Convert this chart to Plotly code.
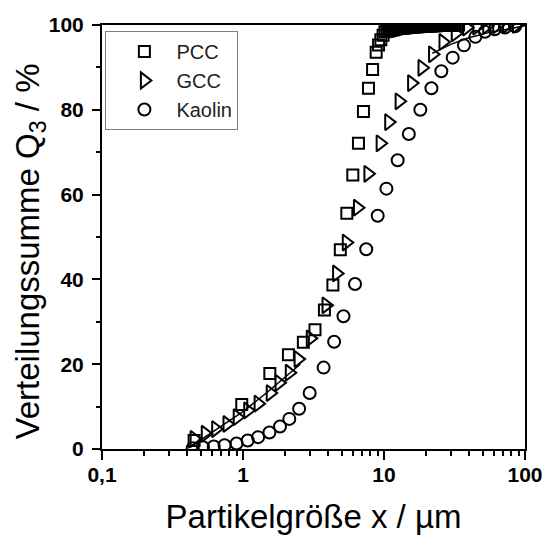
import plotly.graph_objects as go

# Partikelgrößenverteilung (Summenverteilung Q3) von drei Füllstoffen

# PCC (Fällungscalciumcarbonat)
pcc_x = [0.45, 0.98, 1.55, 2.10, 2.68, 3.24, 3.78, 4.34, 4.90, 5.45, 6.01, 6.59,
         7.15, 7.76, 8.30, 8.80, 9.15, 9.50, 9.85, 10.15,
         10.5, 10.8, 11.1, 11.4, 11.7, 12.0, 12.4, 12.8, 13.2, 13.6,
         14.0, 14.4, 14.8, 15.2, 15.7, 16.2, 16.7, 17.2, 17.7, 18.2,
         18.8, 19.4, 20.0, 20.6, 21.2, 21.8, 22.4, 23.0, 23.7, 24.4,
         25.1, 25.8, 26.5, 27.2, 28.0, 28.8, 29.6, 30.4, 31.2, 32.0,
         32.9, 33.8]
pcc_q3 = [2.0, 10.5, 17.8, 22.2, 25.2, 28.1, 32.8, 38.7, 47.0, 55.6, 64.6, 72.1,
          79.6, 85.1, 89.5, 93.6, 95.3, 96.5, 97.6, 98.4,
          98.5, 98.6, 98.7, 98.8, 98.9, 99.0, 99.1, 99.15, 99.2, 99.25,
          99.3, 99.35, 99.4, 99.45, 99.5, 99.52, 99.55, 99.58, 99.6, 99.62,
          99.65, 99.68, 99.7, 99.72, 99.75, 99.77, 99.8, 99.82, 99.84, 99.86,
          99.88, 99.9, 99.91, 99.92, 99.93, 99.94, 99.95, 99.96, 99.97, 99.98,
          99.99, 100.0]

# GCC (gemahlenes Calciumcarbonat)
gcc_x = [0.45, 0.54, 0.64, 0.77, 0.91, 1.08, 1.28, 1.56, 1.80, 2.13, 2.46, 3.00,
         3.88, 4.61, 5.40, 6.48, 7.69, 9.39, 10.8, 12.8, 15.7, 18.6, 22.1, 26.2,
         32.0, 38.5, 45.5, 53.5, 63.0, 74.0, 87.0]
gcc_q3 = [2.4, 3.6, 4.7, 5.9, 7.5, 9.1, 10.7, 13.2, 15.6, 18.0, 21.2, 26.1,
          33.9, 41.4, 48.7, 56.9, 64.9, 72.1, 77.1, 82.0, 86.3, 89.9, 93.1, 96.0,
          98.0, 99.4, 99.6, 99.8, 99.9, 100.0, 100.0]

# Kaolin
kaolin_x = [0.44, 0.52, 0.62, 0.74, 0.90, 1.08, 1.28, 1.54, 1.83, 2.13, 2.50, 2.97,
            3.73, 4.43, 5.16, 6.23, 7.48, 9.02, 10.4, 12.5, 15.0, 18.1, 21.7, 25.5,
            30.7, 36.9, 44.5, 52.0, 61.0, 72.0, 85.0]
kaolin_q3 = [0.2, 0.4, 0.6, 0.9, 1.3, 2.0, 2.8, 3.9, 5.3, 7.1, 9.5, 13.2,
             19.2, 25.3, 31.3, 38.9, 47.1, 55.0, 61.4, 68.1, 74.3, 80.0, 85.1, 89.1,
             92.3, 95.2, 97.2, 98.4, 99.0, 99.4, 99.7]

# Durchgehende Kurve (unterer und oberer Abschnitt)
curve_x = [0.41, 0.60, 1.00, 1.50, 2.00, 2.55, None, 22.0, 30.0, 40.0, 55.0, 75.0, 100.0]
curve_q3 = [0.2, 3.8, 8.8, 13.5, 17.0, 20.0, None, 93.3, 95.5, 97.0, 98.2, 99.0, 99.8]

x_ticks = [0.1, 1, 10, 100]
x_tick_labels = ["0,1", "1", "10", "100"]
x_minor = [0.2, 0.3, 0.4, 0.5, 0.6, 0.7, 0.8, 0.9,
           2, 3, 4, 5, 6, 7, 8, 9,
           20, 30, 40, 50, 60, 70, 80, 90]

FONT = "Liberation Sans, Arial, sans-serif"
LW = 2

fig = go.Figure()

fig.add_trace(go.Scatter(
    x=curve_x, y=curve_q3, mode="lines",
    line=dict(color="black", width=1.5),
    showlegend=False, hoverinfo="skip",
))
fig.add_trace(go.Scatter(
    x=kaolin_x, y=kaolin_q3, mode="markers", name="Kaolin",
    marker=dict(symbol="circle-open", size=12, color="black", line=dict(width=LW)),
))
fig.add_trace(go.Scatter(
    x=gcc_x, y=gcc_q3, mode="markers", name="GCC",
    marker=dict(symbol="triangle-right-open", size=14, color="black", line=dict(width=LW)),
))
fig.add_trace(go.Scatter(
    x=pcc_x, y=pcc_q3, mode="markers", name="PCC",
    marker=dict(symbol="square-open", size=11, color="black", line=dict(width=LW)),
))

axis_common = dict(
    showline=True, linewidth=2, linecolor="black", mirror=True,
    ticks="outside", tickwidth=2, tickcolor="black",
    showgrid=False, zeroline=False, automargin=False,
    tickfont=dict(family=FONT, size=21, color="black", weight="bold"),
)

fig.update_xaxes(
    type="log", range=[-1, 2],
    tickvals=x_ticks, ticktext=x_tick_labels, ticklen=9, ticklabelstandoff=-3,
    minor=dict(tickvals=x_minor, ticks="outside", ticklen=5, tickwidth=1.5, tickcolor="black"),
    title=dict(text="Partikelgröße x / µm", font=dict(family=FONT, size=33, color="black"), standoff=20),
    **axis_common,
)
fig.update_yaxes(
    range=[0, 100], tick0=0, dtick=20, ticklen=8, ticklabelstandoff=4,
    minor=dict(dtick=10, ticks="outside", ticklen=4, tickwidth=1.5, tickcolor="black"),
    **axis_common,
)

fig.add_annotation(
    text="Verteilungssumme Q<sub>3</sub> / %",
    xref="paper", yref="paper", x=-0.17, y=0.466,
    xanchor="center", yanchor="middle", textangle=-90, showarrow=False,
    font=dict(family=FONT, size=33, color="black"),
)

fig.update_layout(
    width=546, height=536,
    margin=dict(l=102, r=21, t=25, b=87, autoexpand=False),
    paper_bgcolor="white", plot_bgcolor="white",
    legend=dict(
        x=0.008, y=0.986, xanchor="left", yanchor="top",
        traceorder="reversed",
        bgcolor="white", bordercolor="#808080", borderwidth=1,
        font=dict(family=FONT, size=20, color="#222222"),
        itemwidth=54, indentation=6,
    ),
)

fig.write_html("out.html")
